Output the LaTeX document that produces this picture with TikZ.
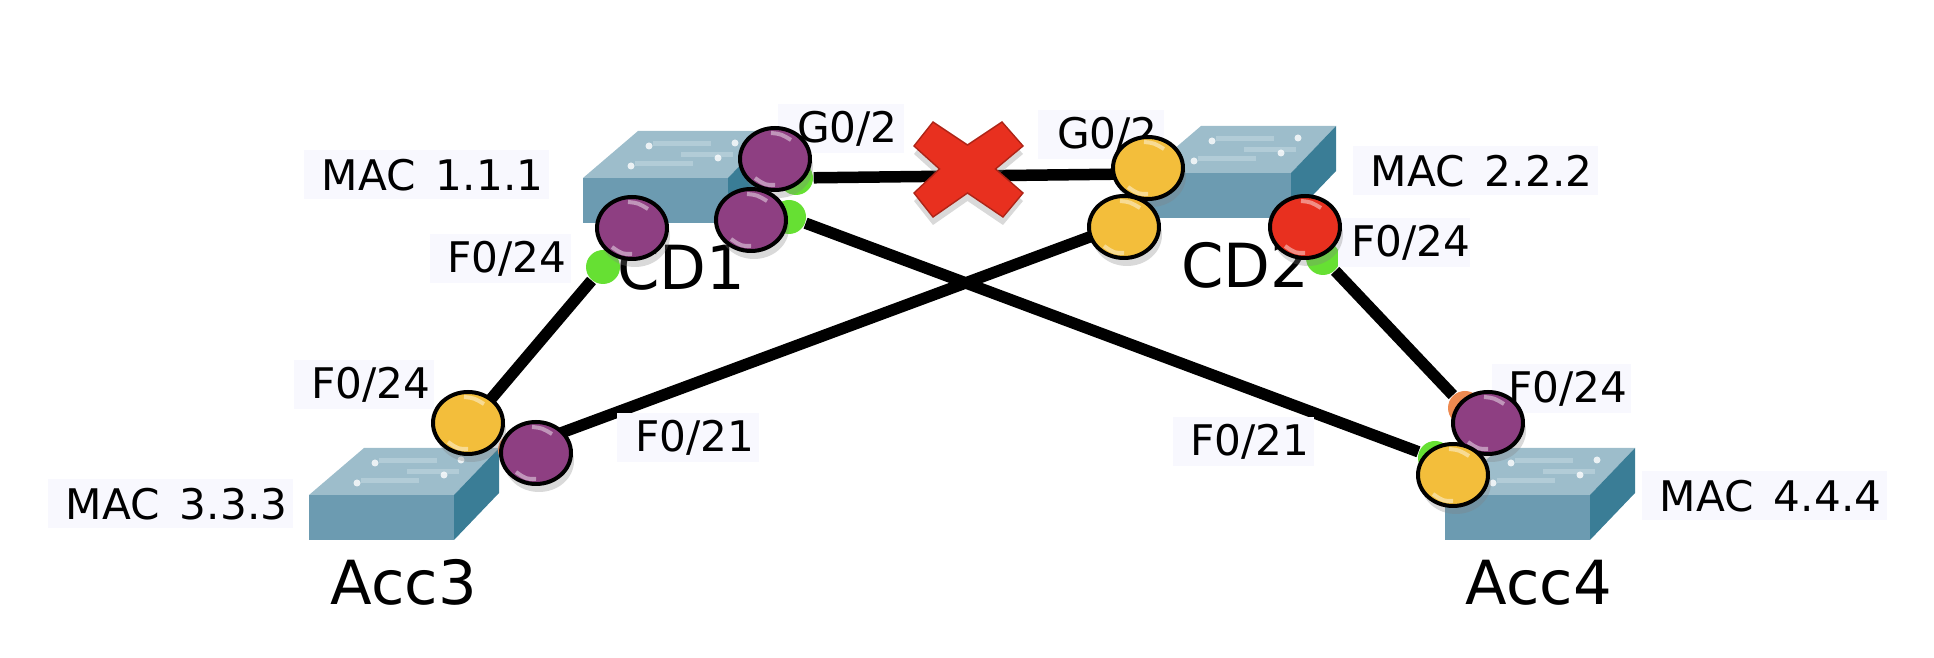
\documentclass[tikz,border=0pt]{standalone}
\usepackage{fontspec}
\setmainfont{DejaVu Sans}
\usepackage{xcolor}
\usepackage{tikz}
\usetikzlibrary{shapes.geometric,shadows}
\definecolor{swfront}{HTML}{6C9BB1}
\definecolor{swtop}{HTML}{9DBDCB}
\definecolor{swstripe}{HTML}{B2CCD7}
\definecolor{swside}{HTML}{3A7D96}
\definecolor{linkgreen}{HTML}{66E033}
\definecolor{linkorange}{HTML}{EE8A50}
\definecolor{portyellow}{HTML}{F3BE3B}
\definecolor{portpurple}{HTML}{8E3F82}
\definecolor{portred}{HTML}{E8301F}
\definecolor{labelbg}{HTML}{F8F8FE}
\tikzset{
linkdot/.style={circle,fill=#1,minimum size=0.34cm,inner sep=0pt},
link/.style={line width=1.15mm,black},
portlabel/.style={fill=labelbg,inner sep=0pt,minimum height=0.49cm,font=\fontsize{12}{14}\selectfont,execute at begin node=\hspace{0.13cm}},
hostname/.style={anchor=base,inner sep=0pt,font=\fontsize{17.3}{20}\selectfont},
port/.style={ellipse,draw=black,line width=0.4mm,fill=#1,minimum width=0.7cm,minimum height=0.62cm,inner sep=0pt,
drop shadow={shadow xshift=0.3mm,shadow yshift=-0.8mm,opacity=0.3},
path picture={
\draw[shift={(path picture bounding box.center)},white,opacity=0.45,line width=0.4mm]
(-4,-26) .. controls (6,-25) .. (16,-19)
(-20,19) .. controls (-10,26) .. (0,26);
}}
}
\begin{document}
\begin{tikzpicture}[x=0.1mm,y=-0.1mm]
\useasboundingbox (0,0) rectangle (1934,658);
\foreach \sx/\sy in {583/223,1146/218,309/540,1445/540}{
\begin{scope}[shift={(\sx,\sy)}]
\fill[swfront](0,0) rectangle (145,-45);
\fill[swtop](0,-45)--(55,-92)--(190,-92)--(145,-45)--cycle;
\fill[swside](145,0)--(190,-47)--(190,-92)--(145,-45)--cycle;
\draw[swstripe,line width=0.5mm](52,-59)--(110,-59)(70,-79)--(128,-79)(98,-68)--(150,-68);
\fill[white,opacity=0.8](66,-77) circle (3.5)(135,-65) circle (3.5)(48,-57) circle (3.5)(152,-80) circle (3.5);
\end{scope}
}
\node[linkdot=linkgreen] (cdonef) at (603,267) {};
\node[linkdot=linkgreen] (cdoneg) at (796,178) {};
\node[linkdot=linkgreen] (cdonex) at (789,217) {};
\node[linkdot=linkgreen] (cdtwog) at (1132,174) {};
\node[linkdot=linkgreen] (cdtwox) at (1130,222) {};
\node[linkdot=linkgreen] (cdtwof) at (1323,258) {};
\node[linkdot=linkgreen] (accthreef) at (480,412) {};
\node[linkdot=linkorange] (accthreex) at (515,450) {};
\node[linkdot=linkorange] (accfourf) at (1465,408) {};
\node[linkdot=linkgreen] (accfourx) at (1435,458) {};
\draw[link](cdonef)--(accthreef);
\draw[link](cdoneg)--(cdtwog);
\draw[link](cdonex)--(accfourx);
\draw[link](cdtwox)--(accthreex);
\draw[link](cdtwof)--(accfourf);
\draw[fill=portred,draw=portred!75!black,drop shadow={shadow xshift=0mm,shadow yshift=-0.8mm,opacity=0.3}]
(933,122)--(967.5,145)--(1002,122)--(1023,146)--(995.5,169)--(1023,193)--(1003,217)--(967.5,193)--(933,217)--(914,193)--(939.5,169)--(914,146)--cycle;
\node[portlabel,minimum width=2.45cm] (macone) at (426,175) {MAC\, 1.1.1};
\node[portlabel,minimum width=2.45cm] (mactwo) at (1475,171) {MAC\, 2.2.2};
\node[portlabel,minimum width=2.45cm] (macthree) at (170,504) {MAC\, 3.3.3};
\node[portlabel,minimum width=2.45cm] (macfour) at (1764,496) {MAC\, 4.4.4};
\node[portlabel,minimum width=1.41cm] (cdonefa) at (500,259) {F0/24};
\node[portlabel,minimum width=1.26cm] (cdonegi) at (841,129) {G0/2};
\node[portlabel,minimum width=1.26cm] (cdtwogi) at (1101,135) {G0/2};
\node[portlabel,minimum width=1.27cm] (cdtwofa) at (1404,243) {F0/24};
\node[portlabel,minimum width=1.40cm] (accthreefa) at (364,385) {F0/24};
\node[portlabel,minimum width=1.42cm] (accthreefx) at (688,438) {F0/21};
\node[portlabel,minimum width=1.39cm] (accfourfa) at (1561,389) {F0/24};
\node[portlabel,minimum width=1.41cm] (accfourfx) at (1243,442) {F0/21};
\node[hostname] (cdone) at (681,290) {CD1};
\node[hostname] (cdtwo) at (1245,288) {CD2};
\node[hostname] (accthree) at (404,605) {Acc3};
\node[hostname] (accfour) at (1539,605) {Acc4};
\node[port=portpurple] (cdonepa) at (632,228) {};
\node[port=portpurple] (cdonepg) at (775,159) {};
\node[port=portpurple] (cdonepx) at (751,220) {};
\node[port=portyellow] (cdtwopg) at (1148,168) {};
\node[port=portyellow] (cdtwopx) at (1124,227) {};
\node[port=portred] (cdtwopa) at (1305,227) {};
\node[port=portyellow] (accthreepa) at (468,423) {};
\node[port=portpurple] (accthreepx) at (536,453) {};
\node[port=portpurple] (accfourpa) at (1488,423) {};
\node[port=portyellow] (accfourpx) at (1453,475) {};
\end{tikzpicture}
\end{document}
